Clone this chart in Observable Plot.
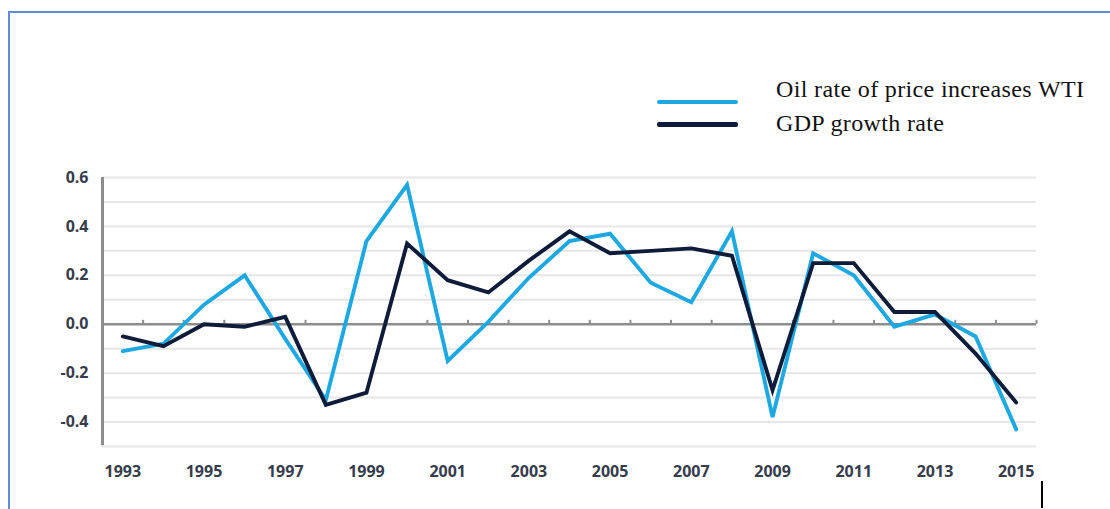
<!DOCTYPE html>
<html>
<head>
<meta charset="utf-8">
<script src="https://cdn.jsdelivr.net/npm/d3@7"></script>
<script src="https://cdn.jsdelivr.net/npm/@observablehq/plot@0.6"></script>
<style>
  html, body { margin: 0; padding: 0; background: #fff; }
  #wrap { position: relative; width: 1110px; height: 509px; overflow: hidden; }
  #frame { position: absolute; left: 8px; top: 11px; width: 1110px; height: 520px;
           border-top: 2px solid #5f8fd2; border-left: 2px solid #5f8fd2; box-sizing: border-box; }
  #chart { position: absolute; left: 0; top: 0; }
  .leg-line { position: absolute; left: 657px; width: 81px; height: 4.5px; border-radius: 2px; }
  .leg-text { position: absolute; left: 776px; font-family: "Liberation Serif", "Times New Roman", serif;
              font-size: 24px; letter-spacing: 0.35px; color: #111; white-space: nowrap; line-height: 1; }
  #cursor { position: absolute; left: 1041px; top: 481px; width: 2px; height: 27px; background: #000; }
</style>
</head>
<body>
<div id="wrap">
  <div id="frame"></div>
  <div id="chart"></div>
  <div id="legend"></div>
  <div id="cursor"></div>
</div>
<script>
// ---- data ----
const years = [1993,1994,1995,1996,1997,1998,1999,2000,2001,2002,2003,2004,2005,2006,2007,2008,2009,2010,2011,2012,2013,2014,2015];
const oilRate = [-0.11,-0.08,0.08,0.20,-0.06,-0.31,0.34,0.57,-0.15,0.01,0.19,0.34,0.37,0.17,0.09,0.38,-0.38,0.29,0.20,-0.01,0.04,-0.05,-0.43];
const gdpRate = [-0.05,-0.09,0.00,-0.01,0.03,-0.33,-0.28,0.33,0.18,0.13,0.26,0.38,0.29,0.30,0.31,0.28,-0.27,0.25,0.25,0.05,0.05,-0.12,-0.32];
const seriesNames = ["Oil rate of price increases WTI", "GDP growth rate"];
const seriesColors = ["#1ea8e2", "#0e1c3a"];
const yTickValues = [0.6, 0.4, 0.2, 0.0, -0.2, -0.4];
const yGridValues = [0.6, 0.5, 0.4, 0.3, 0.2, 0.1, -0.1, -0.2, -0.3, -0.4, -0.5];
const xTickYears = [1993,1995,1997,1999,2001,2003,2005,2007,2009,2011,2013,2015];
const categoryBoundaries = [1993.5,1994.5,1995.5,1996.5,1997.5,1998.5,1999.5,2000.5,2001.5,2002.5,2003.5,2004.5,2005.5,2006.5,2007.5,2008.5,2009.5,2010.5,2011.5,2012.5,2013.5,2014.5,2015.5];

const rows = [];
years.forEach((yr, i) => {
  rows.push({year: yr, value: oilRate[i], series: seriesNames[0]});
});
years.forEach((yr, i) => {
  rows.push({year: yr, value: gdpRate[i], series: seriesNames[1]});
});

const chart = Plot.plot({
  width: 1110,
  height: 509,
  marginLeft: 102,
  marginRight: 74,
  marginTop: 177,
  marginBottom: 63,
  x: {domain: [1992.5, 2015.5], label: null},
  y: {domain: [-0.5, 0.6], label: null},
  color: {domain: seriesNames, range: seriesColors},
  style: {fontFamily: "'Open Sans', sans-serif", fontSize: "16px", fontWeight: 700, color: "#363c4b", background: "transparent"},
  marks: [
    Plot.ruleY(yGridValues, {stroke: "#e6e6e6", strokeWidth: 2}),
    Plot.ruleY([0], {stroke: "#8d8d8d", strokeWidth: 2.5}),
    Plot.ruleX(categoryBoundaries, {y1: 0, y2: 0.016, stroke: "#8d8d8d", strokeWidth: 2}),
    Plot.ruleX([1992.5], {y1: -0.497, y2: 0.6, stroke: "#8d8d8d", strokeWidth: 3}),
    Plot.line(rows, {x: "year", y: "value", z: "series", stroke: "series", strokeWidth: 3.9, strokeLinejoin: "miter", strokeMiterlimit: 4}),
    Plot.axisY({ticks: yTickValues, tickFormat: d => d.toFixed(1), tickSize: 0, tickPadding: 14, fontSize: 16, label: null}),
    Plot.axisX({ticks: xTickYears, tickFormat: d => String(d), tickSize: 0, tickPadding: 19, fontSize: 16, letterSpacing: "-0.8px", label: null})
  ]
});
document.getElementById("chart").appendChild(chart);

// legend
const legend = document.getElementById("legend");
const legLineTops = [99.5, 122];
const legTextTops = [77, 111];
seriesNames.forEach((name, i) => {
  const ln = document.createElement("div");
  ln.className = "leg-line";
  ln.style.top = legLineTops[i] + "px";
  ln.style.background = seriesColors[i];
  legend.appendChild(ln);
  const tx = document.createElement("div");
  tx.className = "leg-text";
  tx.style.top = legTextTops[i] + "px";
  tx.textContent = name;
  legend.appendChild(tx);
});
</script>
</body>
</html>
